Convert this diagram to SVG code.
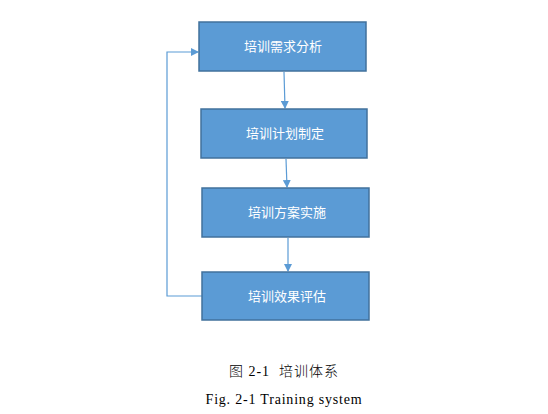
<svg xmlns="http://www.w3.org/2000/svg" width="548" height="414" viewBox="0 0 548 414">
<style>
.box{fill:#5b9bd5;stroke:#41719c;stroke-width:1.5}
.lbl{fill:#ffffff;font-family:"Noto Sans CJK SC","Liberation Sans",sans-serif;font-size:13px;text-anchor:middle}
.con{fill:none;stroke:#5b9bd5;stroke-width:1.2}
.cap{fill:#000;font-family:"Liberation Serif","Noto Sans CJK SC",serif;font-size:14px;text-anchor:middle}
</style>
<defs>
<marker id="ah" markerWidth="8" markerHeight="8" refX="7" refY="4" orient="auto" markerUnits="userSpaceOnUse">
<path d="M0,0 L8,4 L0,8 z" fill="#5b9bd5"/>
</marker>
</defs>
<rect width="548" height="414" fill="#ffffff"/>
<g id="connectors">
<line class="con" x1="284" y1="72" x2="285" y2="108" marker-end="url(#ah)"/>
<line class="con" x1="286" y1="159" x2="287" y2="187" marker-end="url(#ah)"/>
<line class="con" x1="288" y1="238" x2="288" y2="271" marker-end="url(#ah)"/>
<polyline class="con" points="202,296 167,296 167,52 198,52" marker-end="url(#ah)"/>
</g>
<g id="n1">
<rect class="box" x="199" y="22" width="167" height="49"/>
<text class="lbl" x="283" y="51">培训需求分析</text>
</g>
<g id="n2">
<rect class="box" x="201" y="109" width="166" height="49"/>
<text class="lbl" x="285" y="138">培训计划制定</text>
</g>
<g id="n3">
<rect class="box" x="202" y="188" width="167" height="49"/>
<text class="lbl" x="287" y="217">培训方案实施</text>
</g>
<g id="n4">
<rect class="box" x="202" y="272" width="167" height="48"/>
<text class="lbl" x="287" y="301">培训效果评估</text>
</g>
<text class="cap" x="284" y="376" xml:space="preserve" style="font-family:'Liberation Serif','Noto Sans CJK SC',serif;font-weight:300;letter-spacing:1px">图 2-1  培训体系</text>
<text class="cap" x="284" y="404" style="letter-spacing:0.8px">Fig. 2-1 Training system</text>
</svg>
